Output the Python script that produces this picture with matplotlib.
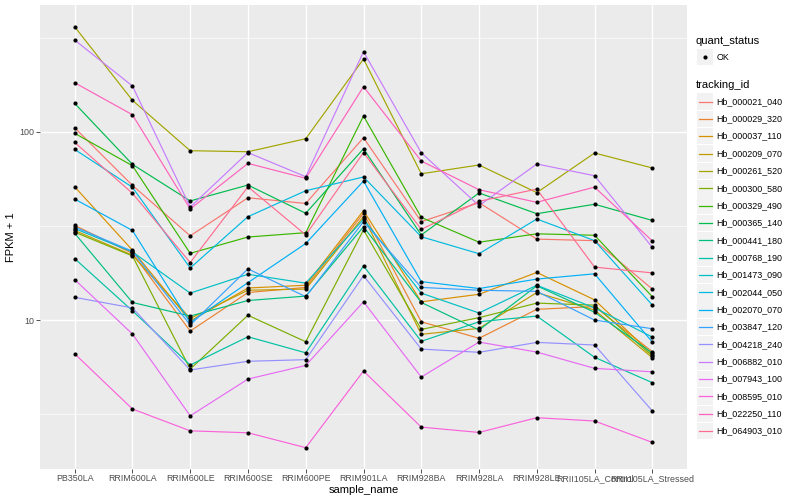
import matplotlib
matplotlib.use("Agg")
import matplotlib.pyplot as plt
from matplotlib.lines import Line2D
from matplotlib.patches import Rectangle
import numpy as np

plt.rcParams['font.family'] = ['Liberation Sans Narrow', 'Liberation Sans', 'DejaVu Sans']

samples = ["PB350LA", "RRIM600LA", "RRIM600LE", "RRIM600SE", "RRIM600PE", "RRIM901LA",
           "RRIM928BA", "RRIM928LA", "RRIM928LE", "RRII105LA_Control", "RRII105LA_Stressed"]

tracking_ids = ["Hb_000021_040", "Hb_000029_320", "Hb_000037_110", "Hb_000209_070", "Hb_000261_520",
                "Hb_000300_580", "Hb_000329_490", "Hb_000365_140", "Hb_000441_180", "Hb_000768_190",
                "Hb_001473_090", "Hb_002044_050", "Hb_002070_070", "Hb_003847_120", "Hb_004218_240",
                "Hb_006882_010", "Hb_007943_100", "Hb_008595_010", "Hb_022250_110", "Hb_064903_010"]

colors = ["#F8766D", "#EA8331", "#D89000", "#C09B00", "#A3A500", "#7CAE00", "#39B600", "#00BB4E",
          "#00BF7D", "#00C1A3", "#00BFC4", "#00BAE0", "#00B0F6", "#35A2FF", "#9590FF", "#C77CFF",
          "#E76BF3", "#FA62DB", "#FF62BC", "#FF6C91"]

# FPKM + 1 values per tracking id, in sample order
fpkm_000021_040 = [105.0, 51.9, 28.0, 44.6, 41.6, 92.9, 33.3, 42.0, 26.9, 26.4, 14.6]
fpkm_000029_320 = [31.8, 22.6, 8.74, 14.0, 14.9, 36.9, 9.79, 8.00, 11.4, 11.8, 6.79]
fpkm_000037_110 = [51.0, 23.5, 9.88, 14.8, 15.3, 38.1, 12.5, 13.7, 17.9, 12.8, 6.56]
fpkm_000209_070 = [29.9, 22.1, 10.2, 14.4, 14.6, 35.4, 8.40, 9.03, 14.0, 11.3, 6.31]
fpkm_000261_520 = [361.0, 146.8, 79.3, 78.3, 91.8, 243.3, 59.8, 66.6, 47.5, 77.1, 64.2]
fpkm_000300_580 = [29.3, 21.9, 5.49, 10.6, 7.67, 30.1, 8.92, 10.3, 12.3, 12.0, 6.44]
fpkm_000329_490 = [98.1, 66.0, 22.6, 27.6, 29.1, 121.2, 35.1, 25.9, 28.7, 28.2, 13.3]
fpkm_000365_140 = [141.5, 67.1, 42.9, 52.1, 36.9, 81.2, 28.3, 47.3, 36.7, 41.2, 33.8]
fpkm_000441_180 = [28.9, 12.4, 10.5, 12.7, 13.4, 31.3, 12.4, 8.85, 15.2, 11.0, 6.68]
fpkm_000768_190 = [21.2, 11.2, 5.77, 8.15, 6.70, 19.4, 7.71, 9.79, 10.5, 6.34, 4.65]
fpkm_001473_090 = [30.6, 23.0, 13.9, 17.5, 15.7, 34.3, 13.9, 10.9, 15.3, 11.6, 8.12]
fpkm_002044_050 = [80.6, 50.7, 18.9, 35.4, 48.6, 57.5, 27.7, 22.5, 34.4, 26.4, 12.0]
fpkm_002070_070 = [43.9, 29.9, 9.70, 15.8, 25.5, 54.7, 16.0, 14.7, 16.5, 17.6, 7.64]
fpkm_003847_120 = [31.2, 23.2, 9.41, 18.7, 13.3, 33.3, 14.9, 14.4, 14.2, 10.0, 8.99]
fpkm_004218_240 = [13.2, 11.6, 5.43, 6.04, 6.16, 17.2, 7.01, 6.74, 7.61, 7.37, 3.29]
fpkm_006882_010 = [306.9, 174.9, 39.8, 77.5, 57.7, 266.0, 77.3, 40.5, 67.4, 58.4, 24.3]
fpkm_007943_100 = [16.4, 8.43, 3.10, 4.86, 5.74, 12.5, 4.98, 7.64, 6.76, 5.54, 5.31]
fpkm_008595_010 = [6.62, 3.37, 2.58, 2.52, 2.10, 5.36, 2.70, 2.53, 3.03, 2.91, 2.24]
fpkm_022250_110 = [182.0, 123.1, 38.9, 67.9, 56.6, 173.4, 69.9, 49.2, 42.2, 50.8, 26.3]
fpkm_064903_010 = [87.8, 47.1, 20.2, 51.0, 28.3, 77.5, 30.3, 42.7, 49.6, 19.1, 17.8]

series = [fpkm_000021_040, fpkm_000029_320, fpkm_000037_110, fpkm_000209_070, fpkm_000261_520,
          fpkm_000300_580, fpkm_000329_490, fpkm_000365_140, fpkm_000441_180, fpkm_000768_190,
          fpkm_001473_090, fpkm_002044_050, fpkm_002070_070, fpkm_003847_120, fpkm_004218_240,
          fpkm_006882_010, fpkm_007943_100, fpkm_008595_010, fpkm_022250_110, fpkm_064903_010]

quant_status = ["OK"]

fig = plt.figure(figsize=(8, 5), dpi=100)
ax = fig.add_axes([40/800, 1-469/500, (687-40)/800, (469-5)/500])
ax.set_facecolor("#EBEBEB")
for s in ax.spines.values():
    s.set_visible(False)

x = np.arange(len(samples))
for vals, col in zip(series, colors):
    ax.plot(x, vals, color=col, lw=0.85, zorder=3, solid_capstyle='butt')
for vals in series:
    ax.plot(x, vals, linestyle='none', marker='o', ms=3.0, color='black', mec='black', mew=0, zorder=4)

ax.set_yscale('log')
lo, hi = 10**0.209, 10**2.673
ax.set_ylim(lo, hi)
ax.set_xlim(-0.6, len(samples) - 0.4)

ax.set_yticks([10, 100])
ax.set_yticklabels(["10", "100"])
ax.yaxis.set_minor_locator(matplotlib.ticker.FixedLocator([10**0.5, 10**1.5, 10**2.5]))
ax.yaxis.set_minor_formatter(matplotlib.ticker.NullFormatter())
ax.set_xticks(x)
ax.set_xticklabels(samples)

ax.grid(True, which='major', color='white', lw=0.95, zorder=0)
ax.grid(True, which='minor', axis='y', color='white', lw=0.45, zorder=0)
ax.set_axisbelow(True)
ax.tick_params(axis='both', which='major', length=2.7, width=0.6, color='#333333',
               labelsize=6.4, labelcolor='#4D4D4D', pad=1.5)
ax.tick_params(axis='x', which='major', pad=0.8)
ax.tick_params(axis='y', which='minor', length=0)

ax.set_xlabel("sample_name", fontsize=8, color='black', labelpad=1.5)
ax.set_ylabel("FPKM + 1", fontsize=8, color='black', labelpad=2)

# Legend (drawn manually, ggplot style)
def fx(px):
    return px / 800
def fy(py):
    return 1 - py / 500

fig.text(fx(696), fy(41), "quant_status", fontsize=8, va='center', ha='left')
for i, q in enumerate(quant_status):
    cy = 57 + i * 17.4
    fig.add_artist(Rectangle((fx(697), fy(cy + 8.3)), 16/800, 16.6/500, transform=fig.transFigure,
                             facecolor='#F2F2F2', edgecolor='none'))
    fig.add_artist(Line2D([fx(705)], [fy(cy)], marker='o', ms=3.0, color='black', mew=0,
                          transform=fig.transFigure))
    fig.text(fx(716.5), fy(cy), q, fontsize=6.4, va='center', ha='left')

fig.text(fx(696), fy(85), "tracking_id", fontsize=8, va='center', ha='left')
for i, (tid, col) in enumerate(zip(tracking_ids, colors)):
    cy = 101.5 + i * 17.35
    fig.add_artist(Rectangle((fx(697), fy(cy + 8.3)), 16/800, 16.6/500, transform=fig.transFigure,
                             facecolor='#F2F2F2', edgecolor='none'))
    fig.add_artist(Line2D([fx(698.5), fx(711.5)], [fy(cy), fy(cy)], color=col, lw=0.9,
                          transform=fig.transFigure))
    fig.text(fx(716.5), fy(cy), tid, fontsize=6.4, va='center', ha='left')

fig.savefig("out.png", dpi=100, facecolor='white')
